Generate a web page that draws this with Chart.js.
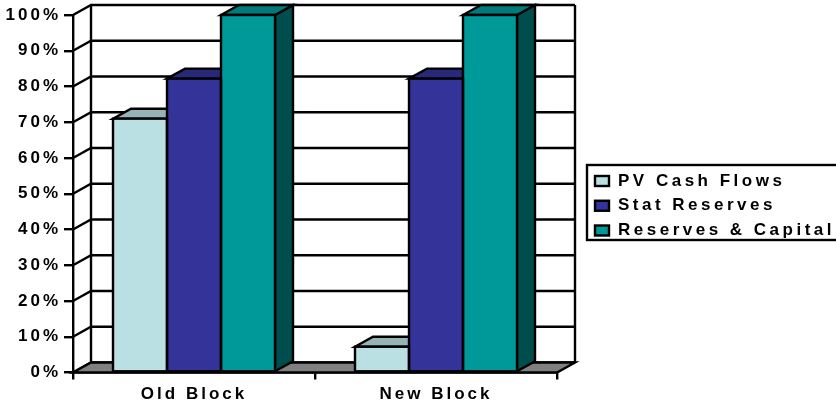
<!DOCTYPE html>
<html>
<head>
<meta charset="utf-8">
<title>Old Block vs New Block</title>
<script src="https://cdn.jsdelivr.net/npm/chart.js@4"></script>
<style>
    html, body { margin: 0; padding: 0; background: #fff; }
    canvas { display: block; }
</style>
</head>
<body>
<canvas id="grafico" width="836" height="406"></canvas>
<script>
// Data
const categories = ['Old Block', 'New Block'];
const seriesNames = ['PV Cash Flows', 'Stat Reserves', 'Reserves & Capital'];
const pvCashFlows = [71, 7.2];
const statReserves = [82.2, 82.2];
const reservesCapital = [100, 100];

// Face colours: front, top, side
const frontColors = ['#BBE0E3', '#333399', '#009999'];
const topColors = ['#96B3B6', '#29297A', '#007A7A'];
const sideColors = ['#5E7072', '#1A1A4D', '#004D4D'];

const FONT_FAMILY = '"Liberation Sans", Arial, sans-serif';
const SPACING = '3px';
const LINE = 2.4;
const DEPTH_X = 18;
const DEPTH_Y = 10;

function poly(ctx, pts, fill) {
    ctx.beginPath();
    pts.forEach((p, i) => i ? ctx.lineTo(p[0], p[1]) : ctx.moveTo(p[0], p[1]));
    ctx.closePath();
    if (fill) { ctx.fillStyle = fill; ctx.fill(); }
    ctx.stroke();
}

// Back wall, floor and the depth faces of the bars
const caixa3d = {
    id: 'caixa3d',
    beforeUpdate(chart) { chart.ctx.letterSpacing = SPACING; },
    beforeDraw(chart) { chart.ctx.letterSpacing = SPACING; },
    beforeDatasetsDraw(chart) {
        const { ctx, chartArea: a, scales: { y } } = chart;
        ctx.save();
        ctx.strokeStyle = '#000';
        ctx.lineWidth = LINE;

        // wall lines, one per tick
        y.ticks.forEach(t => {
            const py = y.getPixelForValue(t.value);
            ctx.beginPath();
            ctx.moveTo(a.left, py);
            ctx.lineTo(a.left + DEPTH_X, py - DEPTH_Y);
            ctx.lineTo(a.right + DEPTH_X, py - DEPTH_Y);
            ctx.stroke();
        });
        ctx.beginPath();
        ctx.moveTo(a.left + DEPTH_X, a.top - DEPTH_Y);
        ctx.lineTo(a.left + DEPTH_X, a.bottom - DEPTH_Y);
        ctx.moveTo(a.right + DEPTH_X, a.top - DEPTH_Y);
        ctx.lineTo(a.right + DEPTH_X, a.bottom - DEPTH_Y);
        ctx.stroke();

        // floor
        poly(ctx, [
            [a.left, a.bottom],
            [a.left + DEPTH_X, a.bottom - DEPTH_Y],
            [a.right + DEPTH_X, a.bottom - DEPTH_Y],
            [a.right, a.bottom]
        ], '#808080');

        // bar tops and sides
        chart.data.datasets.forEach((ds, i) => {
            chart.getDatasetMeta(i).data.forEach(bar => {
                const l = bar.x - bar.width / 2;
                const r = bar.x + bar.width / 2;
                poly(ctx, [[r, bar.y], [r + DEPTH_X, bar.y - DEPTH_Y], [r + DEPTH_X, bar.base - DEPTH_Y], [r, bar.base]], sideColors[i]);
                poly(ctx, [[l, bar.y], [l + DEPTH_X, bar.y - DEPTH_Y], [r + DEPTH_X, bar.y - DEPTH_Y], [r, bar.y]], topColors[i]);
            });
        });
        ctx.restore();
    },
    afterDatasetsDraw(chart) {
        // outlines on top of the fronts, shared between neighbouring bars
        const ctx = chart.ctx;
        ctx.save();
        ctx.strokeStyle = '#000';
        ctx.lineWidth = LINE;
        chart.data.datasets.forEach((ds, i) => {
            chart.getDatasetMeta(i).data.forEach(bar => {
                ctx.strokeRect(bar.x - bar.width / 2, bar.y, bar.width, bar.base - bar.y);
            });
        });
        ctx.restore();
    },
    afterDraw(chart) {
        const ctx = chart.ctx;
        ctx.save();
        ctx.strokeStyle = '#000';
        ctx.lineWidth = LINE;
        ctx.strokeRect(587, 165, 260, 75);   // right edge runs off the picture
        ctx.font = 'bold 17px ' + FONT_FAMILY;
        ctx.letterSpacing = '3.5px';
        ctx.textBaseline = 'middle';
        seriesNames.forEach((nome, i) => {
            const yLinha = 181 + i * 24.75;
            ctx.fillStyle = frontColors[i];
            ctx.fillRect(595, yLinha - 5, 14, 10);
            ctx.strokeRect(595, yLinha - 5, 14, 10);
            ctx.fillStyle = '#000';
            ctx.fillText(nome, 618, yLinha);
        });
        ctx.restore();
    }
};

const conjuntos = [pvCashFlows, statReserves, reservesCapital].map((valores, i) => ({
    label: seriesNames[i],
    data: valores,
    backgroundColor: frontColors[i],
    borderWidth: 0,
    categoryPercentage: 162 / 242,
    barPercentage: 1
}));

new Chart(document.getElementById('grafico'), {
    type: 'bar',
    data: { labels: categories, datasets: conjuntos },
    plugins: [caixa3d],
    options: {
        responsive: false,
        animation: false,
        devicePixelRatio: 1,
        layout: { padding: { top: 15, right: 279, bottom: 0, left: 0 } },
        plugins: { legend: { display: false }, tooltip: { enabled: false } },
        scales: {
            x: {
                afterFit: s => { s.height = 33.5; },
                border: { color: '#000', width: LINE },
                grid: { drawOnChartArea: false, color: '#000', lineWidth: LINE, tickLength: 7 },
                ticks: { color: '#000', font: { family: FONT_FAMILY, size: 17, weight: 'bold' }, padding: 5, maxRotation: 0 }
            },
            y: {
                min: 0,
                max: 100,
                afterFit: s => { s.width = 73; },
                border: { color: '#000', width: LINE },
                grid: { drawOnChartArea: false, color: '#000', lineWidth: LINE, tickLength: 9 },
                ticks: {
                    stepSize: 10,
                    color: '#000',
                    padding: 3,
                    font: { family: FONT_FAMILY, size: 17, weight: 'bold' },
                    callback: v => v + '%'
                }
            }
        }
    }
});
</script>
</body>
</html>
